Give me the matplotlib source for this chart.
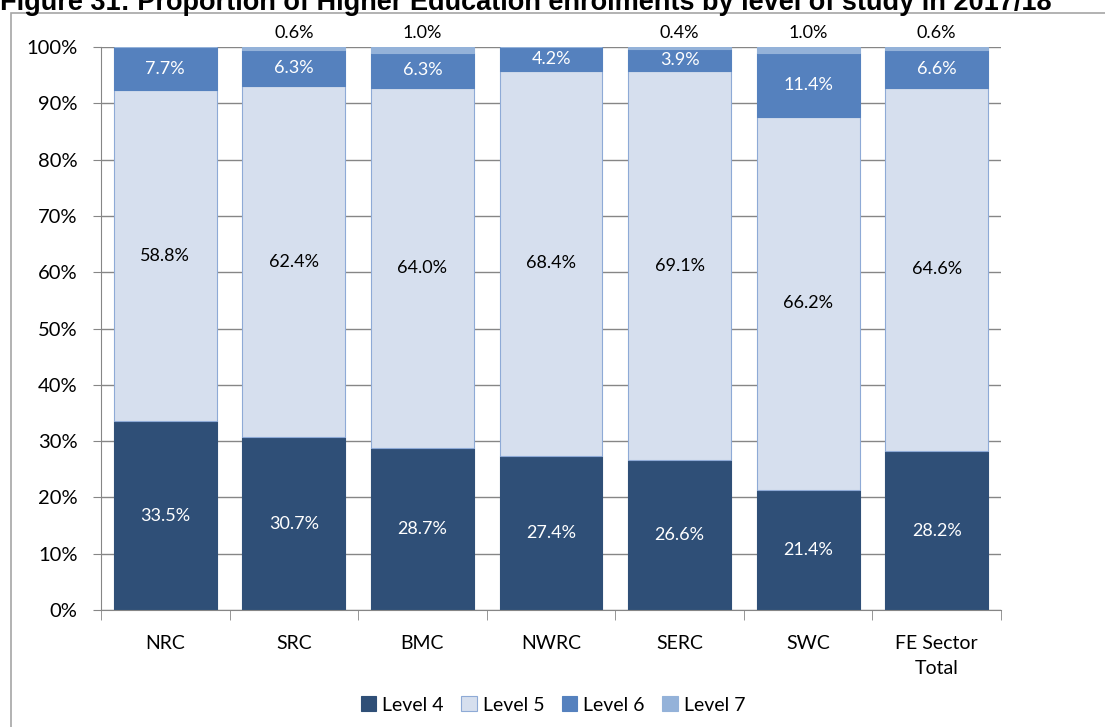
import numpy as np
import matplotlib
matplotlib.use("Agg")
import matplotlib.pyplot as plt
from matplotlib.patches import Rectangle

plt.rcParams['font.family'] = ['Lato', 'DejaVu Sans']

colleges = ["NRC", "SRC", "BMC", "NWRC", "SERC", "SWC", "FE Sector\nTotal"]
level4 = [33.5, 30.7, 28.7, 27.4, 26.6, 21.4, 28.2]
level5 = [58.8, 62.4, 64.0, 68.4, 69.1, 66.2, 64.6]
level6 = [7.7, 6.3, 6.3, 4.2, 3.9, 11.4, 6.6]
level7 = [0.0, 0.6, 1.0, 0.0, 0.4, 1.0, 0.6]

series = [level4, level5, level6, level7]
names = ["Level 4", "Level 5", "Level 6", "Level 7"]
colors = ["#2f4f77", "#d6dfee", "#5581be", "#94b2d9"]
edges = ["#2f4f77", "#8eaad6", "#5581be", "#94b2d9"]
txtcol = ["white", "black", "white", "black"]

W, H = 1105, 727
fig = plt.figure(figsize=(W / 100, H / 100), dpi=100)

# chart border (only top and left visible in the source)
fig.patches.append(Rectangle((11 / W, -0.1), 1.2, 1 - 13 / H + 0.1, transform=fig.transFigure,
                             fill=False, edgecolor="#a6a6a6", lw=1.2))

# title is cut off at the top edge in the source image
fig.text(0, 1 - 10 / H, "Figure 31: Proportion of Higher Education enrolments by level of study in 2017/18",
         fontsize=19.5, fontweight="bold", family="Liberation Sans", ha="left", va="baseline")

ax = fig.add_axes([101 / W, 117 / H, 900 / W, 563 / H])
x = np.arange(len(colleges))
bottom = np.zeros(len(colleges))
for i, vals in enumerate(series):
    vals = np.array(vals)
    ax.bar(x, vals, 0.8, bottom=bottom, color=colors[i], edgecolor=edges[i], lw=0.8,
           label=names[i], zorder=3)
    for j, v in enumerate(vals):
        if v <= 0:
            continue
        if i == 3:
            ax.text(x[j], 102.5, f"{v:.1f}%", ha="center", va="center", fontsize=13, color="black")
        else:
            ax.text(x[j], bottom[j] + v / 2, f"{v:.1f}%", ha="center", va="center",
                    fontsize=13, color=txtcol[i], zorder=4)
    bottom += vals

ax.set_xlim(-0.5, len(colleges) - 0.5)
ax.set_ylim(0, 100)
ax.set_yticks(range(0, 101, 10))
ax.set_yticklabels([f"{t}%" for t in range(0, 101, 10)], fontsize=14.5)
ax.yaxis.grid(True, color="#868686", lw=1, zorder=0)
ax.set_xticks(x)
ax.set_xticklabels(colleges, fontsize=14, va="top", linespacing=1.55)
ax.set_xticks(np.arange(-0.5, len(colleges)), minor=True)
ax.tick_params(axis="x", which="major", length=0, pad=18)
ax.tick_params(axis="x", which="minor", length=7, color="#868686", direction="out")
ax.tick_params(axis="y", length=6, color="#868686", pad=11)
for s in ["top", "right"]:
    ax.spines[s].set_visible(False)
for s in ["left", "bottom"]:
    ax.spines[s].set_color("#868686")
ax.spines["bottom"].set_zorder(5)

leg = fig.legend(loc="center", bbox_to_anchor=(553 / W, 1 - 705 / H), ncol=4, frameon=False,
                 fontsize=14, handlelength=0.8, handleheight=0.8, handletextpad=0.3,
                 columnspacing=0.9)

fig.savefig("out.png", dpi=100)
